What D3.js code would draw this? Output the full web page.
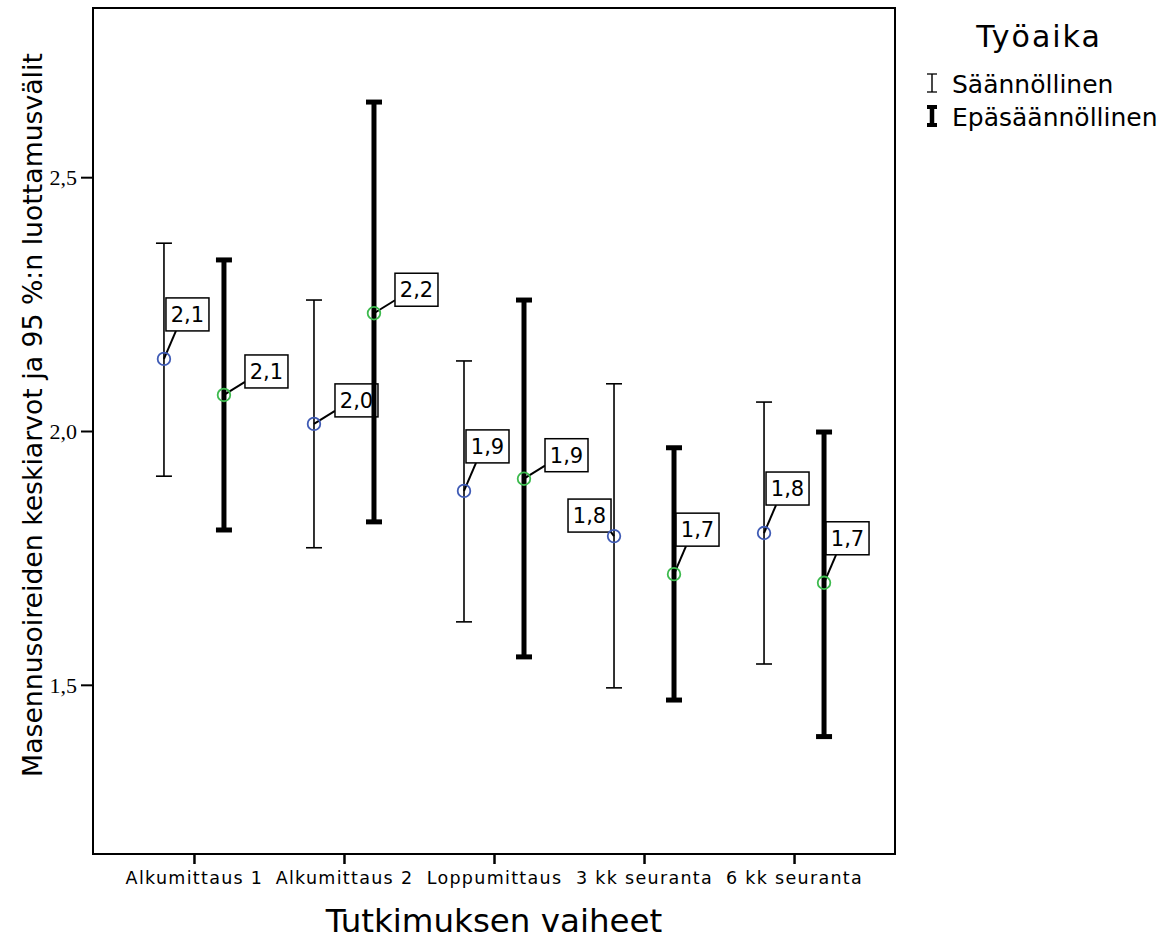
<!DOCTYPE html>
<html>
<head>
<meta charset="utf-8">
<script src="https://cdn.jsdelivr.net/npm/d3@7"></script>
<style>
  body { margin: 0; background: #fff; }
  text { font-family: "DejaVu Sans", Verdana, sans-serif; }
</style>
</head>
<body>
<svg id="chart" width="1160" height="939"></svg>
<script>
// data
const categories = ['Alkumittaus 1', 'Alkumittaus 2', 'Loppumittaus', '3 kk seuranta', '6 kk seuranta'];
const series = ['Säännöllinen', 'Epäsäännöllinen'];

const meanRegular = [2.142, 2.014, 1.882, 1.793, 1.799];
const lowerRegular = [1.911, 1.770, 1.624, 1.494, 1.541];
const upperRegular = [2.370, 2.258, 2.138, 2.093, 2.057];

const meanIrregular = [2.071, 2.232, 1.906, 1.718, 1.701];
const lowerIrregular = [1.805, 1.821, 1.555, 1.470, 1.398];
const upperIrregular = [2.337, 2.648, 2.258, 1.967, 1.998];

const yTicks = [1.5, 2.0, 2.5];

// where each value box sits: 'above', 'right' or 'left' of its point
const labelSideRegular = ['above', 'right', 'above', 'left', 'above'];
const labelSideIrregular = ['right', 'right', 'right', 'above', 'above'];

const svg = d3.select('#chart');
const plotL = 93, plotR = 895, plotT = 8, plotB = 854;

const x = d3.scalePoint()
  .domain(categories)
  .range([plotL, plotR])
  .padding(0.673);

const xOff = d3.scalePoint()
  .domain(series)
  .range([-30, 30]);

const y = d3.scaleLinear()
  .domain([1.1667, 2.8333])
  .range([plotB, plotT]);

const fmt = v => d3.format('.1f')(v).replace('.', ',');

// rows for drawing
const rows = [];
categories.forEach((c, i) => {
  rows.push({ cat: c, s: series[0], mean: meanRegular[i], lo: lowerRegular[i], hi: upperRegular[i], side: labelSideRegular[i] });
  rows.push({ cat: c, s: series[1], mean: meanIrregular[i], lo: lowerIrregular[i], hi: upperIrregular[i], side: labelSideIrregular[i] });
});

const style = {
  'Säännöllinen': { w: 1.6, circle: '#3f5bb5' },
  'Epäsäännöllinen': { w: 5, circle: '#3dba4e' }
};

// axes
const yAxis = d3.axisLeft(y).tickValues(yTicks).tickSize(12).tickFormat(fmt);
const gy = svg.append('g').attr('transform', `translate(${plotL},0)`).call(yAxis);
gy.select('.domain').remove();
gy.selectAll('line').attr('stroke-width', 2);
gy.selectAll('text')
  .style('font-family', '"Liberation Serif", "Times New Roman", serif')
  .style('font-size', '22px')
  .attr('fill', '#000')
  .attr('x', -16)
  .attr('dy', '0.34em');

const xAxis = d3.axisBottom(x).tickSize(10);
const gx = svg.append('g').attr('transform', `translate(0,${plotB})`).call(xAxis);
gx.select('.domain').remove();
gx.selectAll('line').attr('stroke-width', 2.5);
gx.selectAll('text')
  .style('font-size', '17.5px')
  .style('letter-spacing', '1.3px')
  .attr('fill', '#000')
  .attr('y', 17.5);

// frame
svg.append('rect')
  .attr('x', plotL).attr('y', plotT)
  .attr('width', plotR - plotL).attr('height', plotB - plotT)
  .attr('fill', 'none').attr('stroke', '#000').attr('stroke-width', 2);

// error bars
const bars = svg.append('g').selectAll('g')
  .data(rows).enter().append('g')
  .attr('transform', d => `translate(${x(d.cat) + xOff(d.s)},0)`);

bars.append('line')
  .attr('y1', d => y(d.lo)).attr('y2', d => y(d.hi))
  .attr('stroke', '#000').attr('stroke-width', d => style[d.s].w);

bars.selectAll('.cap')
  .data(d => [d.lo, d.hi].map(v => ({ v, s: d.s })))
  .enter().append('line')
  .attr('class', 'cap')
  .attr('x1', -8).attr('x2', 8)
  .attr('y1', d => y(d.v)).attr('y2', d => y(d.v))
  .attr('stroke', '#000').attr('stroke-width', d => style[d.s].w);

// value labels
const boxW = 43, boxH = 33;
bars.each(function (d) {
  const g = d3.select(this);
  const cy = y(d.mean);
  let bx, by, lx, ly;
  if (d.side === 'above') {
    bx = 2; by = cy - 61; lx = bx + 10; ly = by + boxH;
  } else if (d.side === 'right') {
    bx = 21; by = cy - 40; lx = bx; ly = by + boxH - 6;
  } else {
    bx = -46; by = cy - 37; lx = bx + boxW; ly = by + boxH;
  }
  g.append('line')
    .attr('x1', 0).attr('y1', cy).attr('x2', lx).attr('y2', ly)
    .attr('stroke', '#000').attr('stroke-width', 2);
  g.append('rect')
    .attr('x', bx).attr('y', by).attr('width', boxW).attr('height', boxH)
    .attr('fill', '#fff').attr('stroke', '#000').attr('stroke-width', 1.5);
  g.append('text')
    .attr('x', bx + boxW / 2).attr('y', by + boxH / 2 + 7.5)
    .attr('text-anchor', 'middle')
    .style('font-size', '21px')
    .text(fmt(d.mean));
  g.append('circle')
    .attr('cy', cy).attr('r', 6.3)
    .attr('fill', 'none')
    .attr('stroke', style[d.s].circle).attr('stroke-width', 1.8);
});

// axis titles
svg.append('text')
  .attr('x', (plotL + plotR) / 2).attr('y', 932)
  .attr('text-anchor', 'middle')
  .style('font-size', '32.5px')
  .text('Tutkimuksen vaiheet');

svg.append('text')
  .attr('transform', `translate(42,${(52 + 778) / 2}) rotate(-90)`)
  .attr('text-anchor', 'middle')
  .style('font-size', '26.7px')
  .text('Masennusoireiden keskiarvot ja 95 %:n luottamusvälit');

// legend
const legend = svg.append('g');
legend.append('text')
  .attr('x', 1039).attr('y', 47)
  .attr('text-anchor', 'middle')
  .style('font-size', '30px')
  .style('letter-spacing', '2px')
  .text('Työaika');

const lg = legend.selectAll('.item')
  .data(series).enter().append('g')
  .attr('class', 'item')
  .attr('transform', (d, i) => `translate(932,${83 + i * 33})`);

lg.append('line')
  .attr('y1', -9).attr('y2', 9)
  .attr('stroke', '#000').attr('stroke-width', d => style[d].w * 0.9);
lg.selectAll('.lcap')
  .data(d => [-9, 9].map(v => ({ v, s: d })))
  .enter().append('line')
  .attr('x1', -5).attr('x2', 5)
  .attr('y1', d => d.v).attr('y2', d => d.v)
  .attr('stroke', '#000').attr('stroke-width', d => d.s === series[0] ? 1.3 : 4);
lg.append('text')
  .attr('x', 20).attr('y', 10)
  .style('font-size', '25px')
  .text(d => d);
</script>
</body>
</html>
